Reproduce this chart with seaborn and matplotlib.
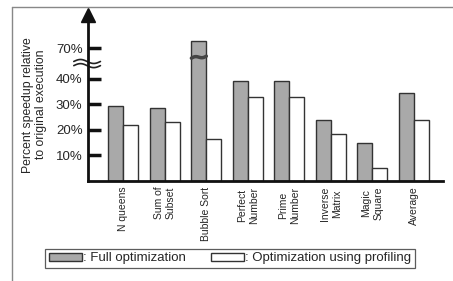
import numpy as np
import pandas as pd
import matplotlib
matplotlib.use("Agg")
import matplotlib.pyplot as plt
import matplotlib.transforms as mtransforms
from matplotlib.lines import Line2D
import seaborn as sns

# dati
benchmarks = ["N queens", "Sum of\nSubset", "Bubble Sort", "Perfect\nNumber", "Prime\nNumber",
              "Inverse\nMatrix", "Magic\nSquare", "Average"]
full_opt = [29.3, 28.4, 73.0, 39.0, 39.0, 24.0, 15.0, 34.5]
profiling_opt = [22.0, 23.0, 16.5, 33.0, 33.0, 18.5, 5.0, 24.0]
series_names = [": Full optimization", ": Optimization using profiling"]
ytick_vals = [10, 20, 30, 40, 70]

df = pd.DataFrame({
    "bench": benchmarks * 2,
    "val": full_opt + profiling_opt,
    "serie": [series_names[0]] * len(benchmarks) + [series_names[1]] * len(benchmarks),
})

sns.set_style("white")
plt.rcParams["font.family"] = ["Liberation Sans", "DejaVu Sans"]

# asse y spezzato: salta da 47% a 65%
def fwd(v):
    v = np.asarray(v, dtype=float)
    return np.where(v >= 65, v - 18, np.minimum(v, 47))

def inv(y):
    y = np.asarray(y, dtype=float)
    return np.where(y > 47, y + 18, y)

fig = plt.figure(figsize=(4.53, 2.81), dpi=100)
ax = fig.add_axes([88 / 453, 1 - 181 / 281, (443 - 88) / 453, (181 - 15) / 281])
ax.set_yscale("function", functions=(fwd, inv))

sns.barplot(data=df, x="bench", y="val", hue="serie", ax=ax,
            palette=["#a9a9a9", "white"], edgecolor="#333333", linewidth=1.0,
            width=0.72, gap=0, saturation=1, errorbar=None)

ax.set_xlim(-0.85, 7.7)
ax.set_ylim(0, 83)
ax.set_yticks(ytick_vals)
ax.set_yticklabels([f"{v}%" for v in ytick_vals], fontsize=9.5)
ax.yaxis.set_minor_locator(matplotlib.ticker.NullLocator())
ax.tick_params(axis="y", direction="in", length=9, width=2.5, pad=4, left=True, color="#111111")
ax.tick_params(axis="x", length=0, pad=4, labelsize=7.5)
for lab in ax.get_xticklabels():
    lab.set_rotation(90)
    lab.set_va("top")
    lab.set_ha("center")
    lab.set_multialignment("center")
ax.set_xlabel("")
ax.set_ylabel("Percent speedup relative\nto original execution", fontsize=8.8, linespacing=1.1)
ax.yaxis.set_label_coords(-0.115, 0.46)

for s in ["top", "right"]:
    ax.spines[s].set_visible(False)
for s in ["left", "bottom"]:
    ax.spines[s].set_linewidth(2)
    ax.spines[s].set_color("#111111")

# freccia in cima all'asse y
ax.plot(0, 1.0, marker="^", markersize=10, color="#111111", transform=ax.transAxes, clip_on=False)

# segni di interruzione
t = np.linspace(0, 1, 40)
wx = -0.04 + 0.075 * t
wy = 0.72 + 0.012 * np.sin(2 * np.pi * t)
ax.plot(wx, wy, color="#222222", lw=1.2, transform=ax.transAxes, clip_on=False)
ax.plot(wx, wy - 0.025, color="#222222", lw=1.2, transform=ax.transAxes, clip_on=False)
blend = mtransforms.blended_transform_factory(ax.transData, ax.transAxes)
bx = 2 - 0.36 + 0.36 * t
by = 0.74 + 0.012 * t + 0.006 * np.sin(2 * np.pi * t)
ax.plot(bx, by, color="#444444", lw=2.5, transform=blend)

# legenda
handles, labels = ax.get_legend_handles_labels()
ax.legend_.remove()
leg = fig.legend(handles, labels, loc="center", bbox_to_anchor=(230 / 453, 1 - 258.5 / 281),
                 ncol=2, fontsize=9.5, frameon=True, fancybox=False, handlelength=2.5,
                 handleheight=0.5, handletextpad=0.1, columnspacing=1.9, borderpad=0.25,
                 borderaxespad=0)
leg.get_frame().set_edgecolor("#333333")
leg.get_frame().set_linewidth(0.9)

# cornice esterna
fig.add_artist(Line2D([12 / 453, 1.0], [1 - 7 / 281] * 2, color="#888888", lw=1))
fig.add_artist(Line2D([12 / 453] * 2, [0, 1 - 7 / 281], color="#888888", lw=1))

fig.savefig("out.png", dpi=100)
